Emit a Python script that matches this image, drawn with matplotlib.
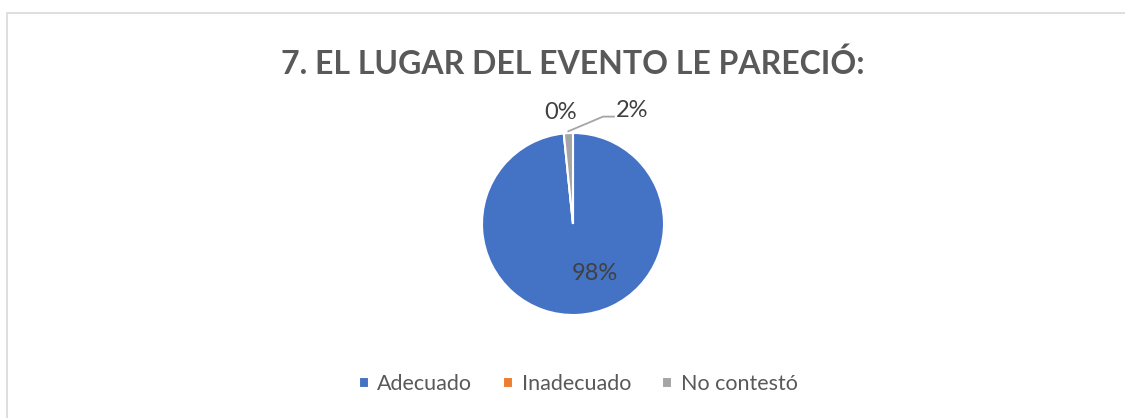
import matplotlib.pyplot as plt
import numpy as np
from matplotlib.patches import Rectangle

# data
categories = ['Adecuado', 'Inadecuado', 'No contestó']
counts = [61, 0, 1]
colors = ['#4472C4', '#ED7D31', '#A5A5A5']
title = '7. EL LUGAR DEL EVENTO LE PARECIÓ:'

plt.rcParams['font.family'] = ['Lato', 'DejaVu Sans']

fig = plt.figure(figsize=(11.25, 4.18), dpi=100)

# chart border (light grey, open to the right/bottom like the crop)
fig.patches.append(Rectangle((7 / 1125, -0.1), 1.2, 1 - 13 / 418 + 0.1,
                             transform=fig.transFigure, fill=False,
                             edgecolor='#D9D9D9', linewidth=1.2))

fig.text(0.5093, 0.848, title, ha='center', va='center', fontsize=23,
         fontweight='bold', color='#595959')

ax = fig.add_axes([(573 - 150) / 1125, 44 / 418, 300 / 1125, 300 / 418])
wedges, _ = ax.pie(counts, colors=colors, startangle=90, counterclock=False,
                   radius=1, wedgeprops=dict(edgecolor='white', linewidth=1.5))
ax.set_xlim(-150 / 91, 150 / 91)
ax.set_ylim(-150 / 91, 150 / 91)
ax.set_aspect('equal')
ax.axis('off')

total = sum(counts)
pct = [round(100 * c / total) for c in counts]
lab_kw = dict(fontsize=17, color='#404040', ha='center', va='center')

ax.text(0.24, -0.54, f'{pct[0]}%', **lab_kw)
ax.text(-0.14, 1.22, f'{pct[1]}%', **lab_kw)

# leader line for the small grey slice
mid = np.deg2rad((wedges[2].theta1 + wedges[2].theta2) / 2)
x0, y0 = np.cos(mid), np.sin(mid)
ax.plot([x0 * 1.02, 0.33, 0.45], [y0 * 1.02, 1.18, 1.18], color='#A5A5A5', lw=1.3)
ax.text(0.65, 1.25, f'{pct[2]}%', **lab_kw)

leg = fig.legend(wedges, categories, loc='center', bbox_to_anchor=(0.514, 0.081),
                 ncol=3, frameon=False, fontsize=15.5, handlelength=0.45,
                 handleheight=0.45, handletextpad=0.4, columnspacing=1.45,
                 labelcolor='#595959')

fig.savefig('out.png', dpi=100)
